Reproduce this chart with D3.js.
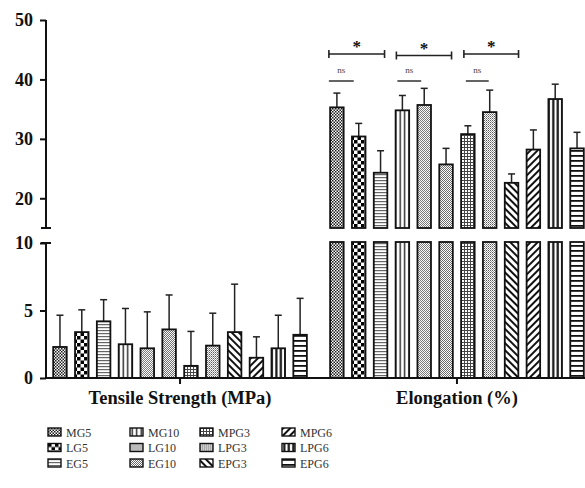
<!DOCTYPE html>
<html>
<head>
<meta charset="utf-8">
<script src="https://cdn.jsdelivr.net/npm/d3@7/dist/d3.min.js"></script>
<style>
  body { margin: 0; background: #fff; }
  svg { display: block; font-family: "Liberation Serif", "DejaVu Serif", serif; }
  svg text { font-family: "Liberation Serif", "DejaVu Serif", serif; }
</style>
</head>
<body>
<svg id="chart" width="585" height="488"></svg>
<script>
// data
const groups = ["Tensile Strength (MPa)", "Elongation (%)"];
const series = ["MG5", "LG5", "EG5", "MG10", "LG10", "EG10", "MPG3", "LPG3", "EPG3", "MPG6", "LPG6", "EPG6"];
const tensileMean = [2.3, 3.4, 4.2, 2.5, 2.2, 3.6, 0.9, 2.4, 3.4, 1.5, 2.2, 3.2];
const tensileErr = [2.35, 1.65, 1.6, 2.65, 2.7, 2.55, 2.55, 2.4, 3.55, 1.55, 2.45, 2.7];
const elongMean = [35.3, 30.4, 24.3, 34.8, 35.7, 25.7, 30.8, 34.5, 22.6, 28.2, 36.7, 28.4];
const elongErr = [2.4, 2.2, 3.7, 2.5, 2.8, 2.7, 1.4, 3.7, 1.5, 3.3, 2.5, 2.7];
const topTicks = [20, 30, 40, 50];
const bottomTicks = [0, 5, 10];
// significance marks: [from series, to series, label]
const sigStars = [["MG5", "EG5", "*"], ["MG10", "EG10", "*"], ["MPG3", "EPG3", "*"]];
const sigNs = [["MG5", "LG5", "ns"], ["MG10", "LG10", "ns"], ["MPG3", "LPG3", "ns"]];

const svg = d3.select("#chart");

const yTop = d3.scaleLinear().domain([15, 50]).range([228, 20]);
const yBot = d3.scaleLinear().domain([0, 10]).range([378, 243]);

const x0 = d3.scaleBand().domain(groups).range([46, 591]).paddingInner(0.054).paddingOuter(0.011);
const x1 = d3.scaleBand().domain(series).range([0, x0.bandwidth()]).paddingInner(0.38).paddingOuter(0.19);

// ---- patterns
const defs = svg.append("defs");
function pat(id, w, h, draw) {
  const p = defs.append("pattern").attr("id", id).attr("patternUnits", "userSpaceOnUse")
    .attr("width", w).attr("height", h);
  p.append("rect").attr("width", w).attr("height", h).attr("fill", "#fff");
  draw(p);
}
function checker(id, s, col) {
  pat(id, 2 * s, 2 * s, p => {
    p.append("rect").attr("width", s).attr("height", s).attr("fill", col);
    p.append("rect").attr("x", s).attr("y", s).attr("width", s).attr("height", s).attr("fill", col);
  });
}
checker("p-MG5", 1.5, "#1a1a1a");
checker("p-LG5", 3.5, "#000");
pat("p-EG5", 3, 3, p => p.append("rect").attr("width", 3).attr("height", 1.2).attr("fill", "#666"));
pat("p-MG10", 4.5, 4, p => p.append("rect").attr("x", 1.5).attr("width", 1.4).attr("height", 4).attr("fill", "#222"));
checker("p-LG10", 1, "#777");
checker("p-EG10", 1, "#6a6a6a");
pat("p-MPG3", 3, 3, p => {
  p.append("rect").attr("width", 3).attr("height", 1).attr("fill", "#444");
  p.append("rect").attr("width", 1).attr("height", 3).attr("fill", "#444");
});
pat("p-LPG3", 2, 2, p => {
  p.append("rect").attr("width", 1).attr("height", 1).attr("fill", "#555");
  p.append("rect").attr("x", 1).attr("y", 1).attr("width", 1).attr("height", 1).attr("fill", "#999");
});
pat("p-EPG3", 5, 5, p => {
  p.attr("patternTransform", "rotate(45)");
  p.append("rect").attr("width", 5).attr("height", 2).attr("fill", "#111");
});
pat("p-MPG6", 5, 5, p => {
  p.attr("patternTransform", "rotate(-45)");
  p.append("rect").attr("width", 5).attr("height", 2).attr("fill", "#111");
});
pat("p-LPG6", 4.5, 4, p => p.append("rect").attr("x", 1.2).attr("width", 2.2).attr("height", 4).attr("fill", "#111"));
pat("p-EPG6", 5, 5, p => p.append("rect").attr("width", 5).attr("height", 1.8).attr("fill", "#111"));

const fillOf = s => `url(#p-${s})`;

// ---- bars
function errorBars(g, data, y) {
  const mid = d => x1(d.s) + x1.bandwidth() / 2;
  g.selectAll("line.err").data(data).join("line").attr("class", "err")
    .attr("x1", mid).attr("x2", mid)
    .attr("y1", d => y(d.v)).attr("y2", d => y(d.v + d.e))
    .attr("stroke", "#222").attr("stroke-width", 1.5);
  g.selectAll("line.cap").data(data).join("line").attr("class", "cap")
    .attr("x1", d => mid(d) - 3.5).attr("x2", d => mid(d) + 3.5)
    .attr("y1", d => y(d.v + d.e)).attr("y2", d => y(d.v + d.e))
    .attr("stroke", "#222").attr("stroke-width", 1.5);
}

const gTensile = svg.append("g").attr("transform", `translate(${x0(groups[0])},0)`);
const tData = series.map((s, i) => ({ s, v: tensileMean[i], e: tensileErr[i] }));
errorBars(gTensile, tData, yBot);
gTensile.selectAll("rect").data(tData).join("rect")
  .attr("x", d => x1(d.s)).attr("width", x1.bandwidth())
  .attr("y", d => yBot(d.v)).attr("height", d => yBot(0) - yBot(d.v))
  .attr("fill", d => fillOf(d.s)).attr("stroke", "#111").attr("stroke-width", 1.8);

const gElong = svg.append("g").attr("transform", `translate(${x0(groups[1])},0)`);
const eData = series.map((s, i) => ({ s, v: elongMean[i], e: elongErr[i] }));
errorBars(gElong, eData, yTop);
// upper part (above the break)
gElong.selectAll("rect.top").data(eData).join("rect").attr("class", "top")
  .attr("x", d => x1(d.s)).attr("width", x1.bandwidth())
  .attr("y", d => yTop(d.v)).attr("height", d => yTop(15) - yTop(d.v))
  .attr("fill", d => fillOf(d.s)).attr("stroke", "#111").attr("stroke-width", 1.8);
// lower part (below the break)
gElong.selectAll("rect.bot").data(eData).join("rect").attr("class", "bot")
  .attr("x", d => x1(d.s)).attr("width", x1.bandwidth())
  .attr("y", yBot(10) - 1).attr("height", yBot(0) - yBot(10) + 1)
  .attr("fill", d => fillOf(d.s)).attr("stroke", "#111").attr("stroke-width", 1.8);

// ---- significance marks
const cx = s => x0(groups[1]) + x1(s) + x1.bandwidth() / 2;
sigStars.forEach(([a, b, lab], i) => {
  const xa = cx(a) - 8 + i * 2, xb = cx(b) + 4 + i * 1.5, y = 54 + (i === 1 ? 1.5 : 0);
  svg.append("line").attr("x1", xa).attr("x2", xb).attr("y1", y).attr("y2", y).attr("stroke", "#222").attr("stroke-width", 1.6);
  [xa, xb].forEach(xx => svg.append("line").attr("x1", xx).attr("x2", xx).attr("y1", y - 4).attr("y2", y + 4)
    .attr("stroke", "#222").attr("stroke-width", 1.6));
  svg.append("text").attr("x", (xa + xb) / 2).attr("y", y - 2).attr("text-anchor", "middle")
    .attr("font-size", 17).attr("font-weight", "bold").attr("fill", "#111").text(lab);
});
sigNs.forEach(([a, b, lab], i) => {
  const xa = cx(a) - 8 + i * 3, xb = cx(b) - 5 + i * 2, y = 81;
  svg.append("line").attr("x1", xa).attr("x2", xb).attr("y1", y).attr("y2", y).attr("stroke", "#222").attr("stroke-width", 1.4);
  svg.append("text").attr("x", (xa + xb) / 2).attr("y", y - 8).attr("text-anchor", "middle")
    .attr("font-size", 9).attr("fill", "#444").text(lab);
});

// ---- axes
const axisStyle = g => {
  g.attr("font-family", null);
  g.select(".domain").remove();
  g.selectAll(".tick line").attr("stroke", "#111").attr("stroke-width", 2);
  g.selectAll(".tick text").attr("font-size", 18).attr("font-weight", "bold").attr("fill", "#111");
};
svg.append("g").attr("transform", "translate(46,0)")
  .call(d3.axisLeft(yTop).tickValues(topTicks).tickSize(6).tickPadding(7)).call(axisStyle);
svg.append("g").attr("transform", "translate(46,0)")
  .call(d3.axisLeft(yBot).tickValues(bottomTicks).tickSize(6).tickPadding(7)).call(axisStyle);

// axis segments with break caps
svg.append("line").attr("x1", 46).attr("x2", 46).attr("y1", yTop(50)).attr("y2", yTop(15)).attr("stroke", "#111").attr("stroke-width", 2);
svg.append("line").attr("x1", 41).attr("x2", 51).attr("y1", yTop(15)).attr("y2", yTop(15)).attr("stroke", "#111").attr("stroke-width", 2);
svg.append("line").attr("x1", 46).attr("x2", 46).attr("y1", yBot(10)).attr("y2", yBot(0)).attr("stroke", "#111").attr("stroke-width", 2);
svg.append("line").attr("x1", 41).attr("x2", 51).attr("y1", yBot(10)).attr("y2", yBot(10)).attr("stroke", "#111").attr("stroke-width", 2);

const xAxis = svg.append("g").attr("transform", `translate(0,${yBot(0)})`)
  .call(d3.axisBottom(x0).tickSize(6).tickSizeOuter(0).tickPadding(7));
xAxis.attr("font-family", null);
xAxis.select(".domain").attr("stroke", "#111").attr("stroke-width", 2).attr("d", "M46,0H585");
xAxis.selectAll(".tick line").attr("stroke", "#111").attr("stroke-width", 2);
xAxis.selectAll(".tick text").attr("font-size", 18.5).attr("font-weight", "bold").attr("fill", "#111");

// ---- legend (column-major, 3 rows)
const legend = svg.append("g").attr("transform", "translate(48,428)");
const colStep = [0, 82, 152, 234];
series.forEach((s, i) => {
  const g = legend.append("g").attr("transform", `translate(${colStep[Math.floor(i / 3)]},${(i % 3) * 15.5})`);
  g.append("rect").attr("width", 13).attr("height", 8).attr("fill", fillOf(s)).attr("stroke", "#111").attr("stroke-width", 1.4);
  g.append("text").attr("x", 18).attr("y", 8.5).attr("font-size", 12).attr("fill", "#333").text(s);
});
</script>
</body>
</html>
